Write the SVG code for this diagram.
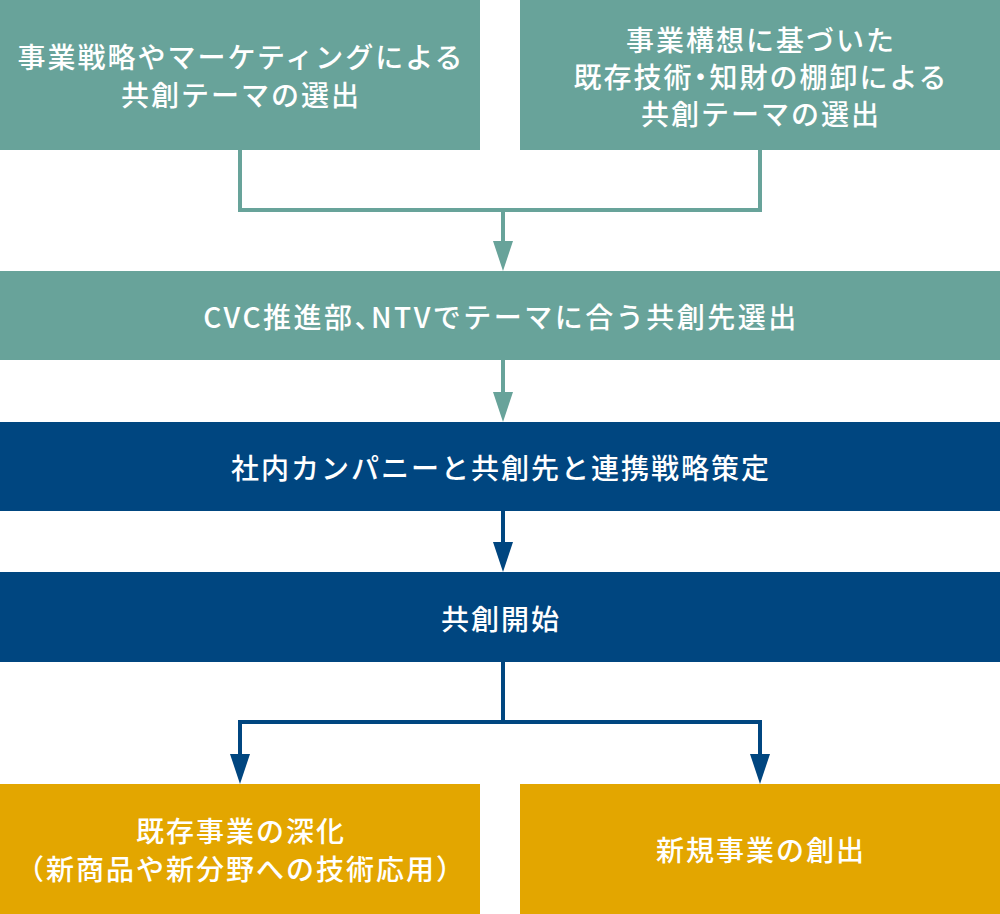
<svg xmlns="http://www.w3.org/2000/svg" width="1000" height="914" viewBox="0 0 1000 914">
  <style>
    .teal { fill: #68A39A; }
    .navy { fill: #004680; }
    .gold { fill: #E3A600; }
    .lbl { font-family: "Noto Sans CJK JP", "Noto Sans", sans-serif; font-size: 28px; font-weight: 500; fill: #FFFFFF; text-anchor: middle; dominant-baseline: central; letter-spacing: 2px; }
    .half { font-feature-settings: "halt"; }
    .ct { fill: none; stroke: #68A39A; stroke-width: 4; }
    .cn { fill: none; stroke: #004680; stroke-width: 4; }
  </style>
  <defs>
    <marker id="aT" viewBox="0 0 30 20" markerWidth="30" markerHeight="20" refX="0" refY="10" markerUnits="userSpaceOnUse" orient="auto">
      <path d="M0,0 L30,10 L0,20 z" fill="#68A39A"/>
    </marker>
    <marker id="aN" viewBox="0 0 30 20" markerWidth="30" markerHeight="20" refX="0" refY="10" markerUnits="userSpaceOnUse" orient="auto">
      <path d="M0,0 L30,10 L0,20 z" fill="#004680"/>
    </marker>
  </defs>

  <g id="connectors">
    <path class="ct" d="M240 150 V210 H760 V150"/>
    <path class="ct" d="M503 210 V241" marker-end="url(#aT)"/>
    <path class="ct" d="M503 360 V392" marker-end="url(#aT)"/>
    <path class="cn" d="M503 511 V542" marker-end="url(#aN)"/>
    <path class="cn" d="M503 662 V722"/>
    <path class="cn" d="M505 722 H240 V754" marker-end="url(#aN)"/>
    <path class="cn" d="M501 722 H760 V754" marker-end="url(#aN)"/>
  </g>

  <g id="node-strategy">
    <rect class="teal" x="0" y="0" width="480" height="150"/>
    <text class="lbl" x="241" y="56">事業戦略やマーケティングによる</text>
    <text class="lbl" x="241" y="94">共創テーマの選出</text>
  </g>

  <g id="node-concept">
    <rect class="teal" x="520" y="0" width="480" height="150"/>
    <text class="lbl" x="761" y="39">事業構想に基づいた</text>
    <text class="lbl" x="761" y="76">既存技術<tspan class="half">・</tspan>知財の棚卸による</text>
    <text class="lbl" x="761" y="113">共創テーマの選出</text>
  </g>

  <g id="node-cvc">
    <rect class="teal" x="0" y="271" width="1000" height="89"/>
    <text class="lbl" x="501" y="316" style="letter-spacing:2.5px">CVC推進部<tspan class="half">、</tspan>NTVでテーマに合う共創先選出</text>
  </g>

  <g id="node-plan">
    <rect class="navy" x="0" y="422" width="1000" height="89"/>
    <text class="lbl" x="501" y="467">社内カンパニーと共創先と連携戦略策定</text>
  </g>

  <g id="node-start">
    <rect class="navy" x="0" y="572" width="1000" height="90"/>
    <text class="lbl" x="501" y="618">共創開始</text>
  </g>

  <g id="node-deepen">
    <rect class="gold" x="0" y="784" width="480" height="130"/>
    <text class="lbl" x="241" y="830">既存事業の深化</text>
    <text class="lbl" x="241" y="868">（新商品や新分野への技術応用）</text>
  </g>

  <g id="node-new">
    <rect class="gold" x="520" y="784" width="480" height="130"/>
    <text class="lbl" x="761" y="849">新規事業の創出</text>
  </g>
</svg>
